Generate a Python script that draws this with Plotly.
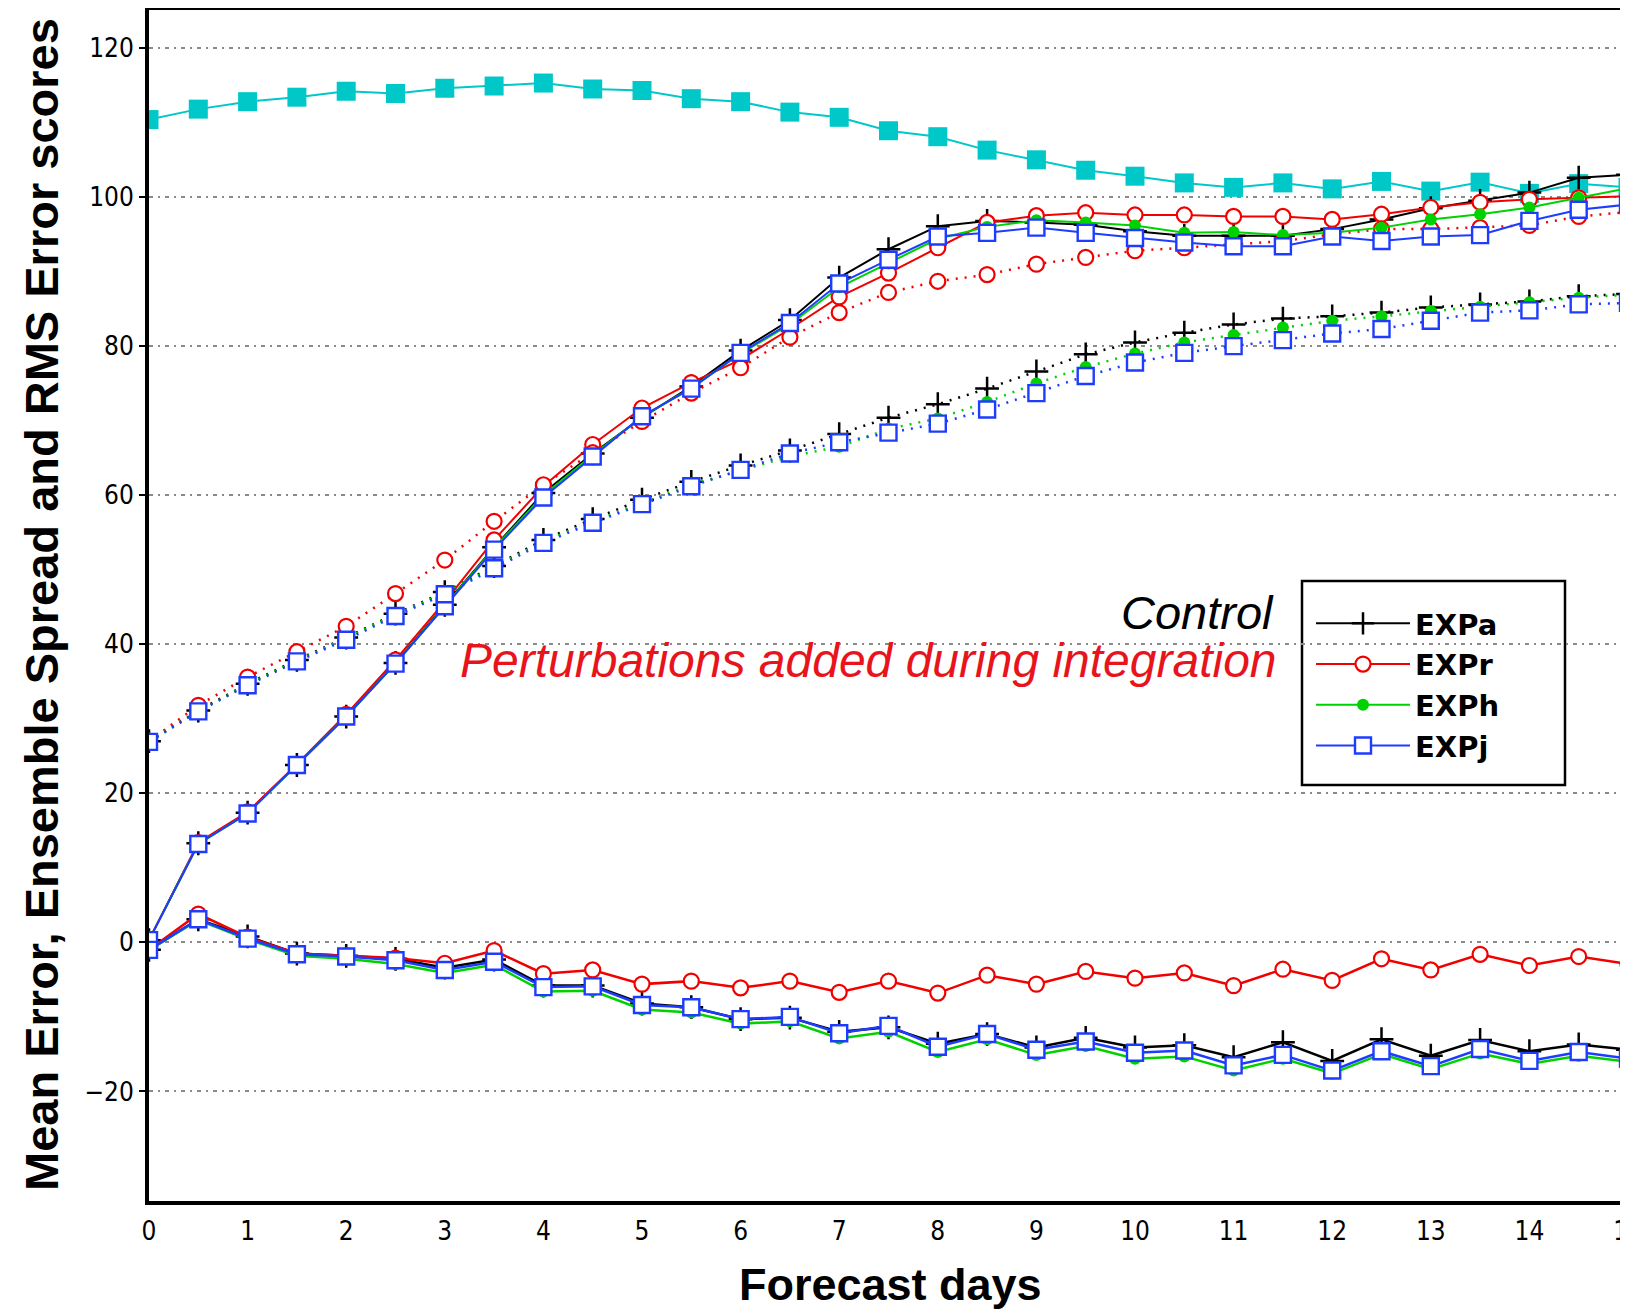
import plotly.graph_objects as go

# ---------------- data ----------------
days = [0, 0.5, 1, 1.5, 2, 2.5, 3, 3.5, 4, 4.5, 5, 5.5, 6, 6.5, 7, 7.5,
        8, 8.5, 9, 9.5, 10, 10.5, 11, 11.5, 12, 12.5, 13, 13.5, 14, 14.5, 15]

# cyan reference curve (filled squares, not in legend)
cyan_ref = [110.4, 111.8, 112.8, 113.4, 114.2, 113.9, 114.6, 114.9, 115.3, 114.5,
            114.3, 113.2, 112.8, 111.4, 110.7, 108.9, 108.1, 106.3, 105.0, 103.6,
            102.8, 101.9, 101.3, 101.9, 101.1, 102.1, 100.8, 102.0, 100.5, 101.8, 101.3]

# RMS error (solid)
rms_a = [0.3, 13.3, 17.4, 23.8, 30.3, 37.5, 45.3, 53.0, 60.3, 65.6, 70.4, 74.6, 79.4,
         83.5, 89.2, 93.0, 96.1, 96.8, 96.6, 96.3, 95.4, 94.8, 94.8, 94.8, 95.7, 97.0,
         98.5, 99.5, 100.6, 102.6, 103.0]
rms_r = [0.3, 13.4, 17.5, 23.9, 30.6, 37.9, 45.7, 54.0, 61.2, 66.8, 71.7, 75.1, 78.2,
         82.3, 86.6, 89.8, 93.2, 96.6, 97.5, 97.9, 97.6, 97.6, 97.4, 97.4, 97.0, 97.7,
         98.6, 99.3, 99.7, 99.9, 100.1]
rms_h = [0.3, 13.2, 17.3, 23.8, 30.3, 37.4, 45.2, 52.9, 60.0, 65.4, 70.5, 74.4, 79.0,
         82.9, 87.9, 91.1, 94.4, 96.0, 96.9, 96.6, 96.2, 95.2, 95.3, 94.9, 95.2, 95.9,
         97.0, 97.7, 98.6, 99.9, 101.2]
rms_j = [0.3, 13.2, 17.3, 23.8, 30.3, 37.4, 45.1, 52.7, 59.7, 65.2, 70.6, 74.3, 79.1,
         83.1, 88.4, 91.6, 94.7, 95.2, 95.9, 95.2, 94.5, 93.9, 93.4, 93.4, 94.7, 94.1,
         94.7, 94.9, 96.8, 98.3, 99.0]

# ensemble spread (dotted)
spread_a = [27.0, 31.1, 34.7, 37.9, 40.9, 44.1, 47.0, 50.5, 54.0, 56.8, 59.4, 61.8, 64.0,
            66.0, 68.2, 70.4, 72.2, 74.3, 76.6, 78.9, 80.5, 81.8, 82.9, 83.7, 84.0, 84.5,
            85.2, 85.6, 86.0, 86.7, 87.0]
spread_r = [27.0, 31.8, 35.6, 39.0, 42.4, 46.8, 51.3, 56.5, 61.4, 65.7, 69.9, 73.7, 77.1,
            81.2, 84.5, 87.2, 88.7, 89.6, 91.0, 91.9, 92.8, 93.2, 93.6, 94.1, 95.0, 95.7,
            95.7, 95.9, 96.2, 97.4, 98.0]
spread_h = [26.9, 31.0, 34.6, 37.8, 40.8, 44.0, 46.9, 50.4, 53.8, 56.5, 59.0, 61.4, 63.3,
            65.2, 66.5, 68.9, 70.3, 72.5, 75.0, 77.2, 79.0, 80.5, 81.5, 82.5, 83.4, 84.0,
            84.7, 85.3, 85.9, 86.5, 86.9]
spread_j = [26.9, 31.0, 34.5, 37.7, 40.6, 43.8, 46.7, 50.2, 53.6, 56.3, 58.8, 61.2, 63.4,
            65.6, 67.1, 68.4, 69.6, 71.5, 73.7, 76.0, 77.8, 79.1, 80.0, 80.8, 81.7, 82.3,
            83.4, 84.5, 84.8, 85.6, 85.8]

# mean error (solid)
me_a = [-1.0, 3.1, 0.8, -1.5, -1.8, -2.2, -3.4, -2.3, -5.8, -5.8, -8.2, -8.7, -10.3,
        -10.1, -12.0, -11.4, -13.6, -12.3, -14.1, -12.8, -14.1, -13.8, -15.4, -13.4,
        -15.9, -13.0, -15.2, -13.1, -14.6, -13.7, -14.4]
me_r = [-1.0, 3.8, 0.7, -1.5, -1.8, -2.1, -2.8, -1.1, -4.2, -3.7, -5.6, -5.2, -6.1,
        -5.2, -6.7, -5.2, -6.8, -4.4, -5.6, -3.9, -4.8, -4.1, -5.8, -3.6, -5.1, -2.2,
        -3.7, -1.6, -3.1, -1.9, -2.9]
me_h = [-1.0, 3.0, 0.4, -1.8, -2.2, -2.9, -4.1, -3.0, -6.6, -6.5, -9.0, -9.4, -10.9,
        -10.6, -12.9, -12.0, -14.7, -13.0, -15.1, -13.9, -15.6, -15.3, -17.2, -15.6,
        -17.6, -15.0, -17.0, -14.9, -16.3, -15.2, -16.0]
me_j = [-1.0, 3.1, 0.5, -1.6, -1.9, -2.4, -3.7, -2.6, -6.0, -5.9, -8.4, -8.7, -10.3,
        -10.0, -12.2, -11.2, -14.0, -12.3, -14.4, -13.3, -14.8, -14.5, -16.5, -15.1,
        -17.2, -14.6, -16.6, -14.3, -15.9, -14.7, -15.6]

exp_names = ["EXPa", "EXPr", "EXPh", "EXPj"]
x_tick_vals = [0, 1, 2, 3, 4, 5, 6, 7, 8, 9, 10, 11, 12, 13, 14, 15]
y_tick_vals = [-20, 0, 20, 40, 60, 80, 100, 120]
y_tick_text = ["\u221220", "0", "20", "40", "60", "80", "100", "120"]

# ---------------- styles ----------------
CYAN = "#00C8C8"
styles = {
    "EXPa": dict(color="#000000", symbol="cross-thin-open", size=17, lw=2.5, fill="#000000"),
    "EXPr": dict(color="#F20000", symbol="circle", size=15, lw=2.2, fill="white"),
    "EXPh": dict(color="#00D200", symbol="circle", size=12, lw=0, fill="#00D200"),
    "EXPj": dict(color="#1E3CFF", symbol="square", size=16, lw=2.4, fill="white"),
}
series = {
    "EXPa": (rms_a, spread_a, me_a),
    "EXPr": (rms_r, spread_r, me_r),
    "EXPh": (rms_h, spread_h, me_h),
    "EXPj": (rms_j, spread_j, me_j),
}

fig = go.Figure()

fig.add_trace(go.Scatter(
    x=days, y=cyan_ref, mode="lines+markers", showlegend=False,
    line=dict(color=CYAN, width=2),
    marker=dict(symbol="square", size=19, color=CYAN),
))

for name in exp_names:
    st = styles[name]
    rms, spr, me = series[name]
    mk = dict(symbol=st["symbol"], size=st["size"], color=st["fill"],
              line=dict(color=st["color"], width=st["lw"]))
    fig.add_trace(go.Scatter(
        x=days, y=rms, mode="lines+markers", name=name, showlegend=True,
        line=dict(color=st["color"], width=2), marker=mk))
    fig.add_trace(go.Scatter(
        x=days, y=spr, mode="lines+markers", name=name + " spread", showlegend=False,
        line=dict(color=st["color"], width=2.5, dash="2px,7px"), marker=mk))
    fig.add_trace(go.Scatter(
        x=days, y=me, mode="lines+markers", name=name + " mean error", showlegend=False,
        line=dict(color=st["color"], width=2.5), marker=mk))

# page geometry: the page body adds an 8 px offset, positions below are screen px
OFF = 8
W, H = 1628, 1313
L = 149 - OFF            # screen x of day 0 = 149
T = 10 - OFF             # screen y of plot top = 10
B = H - (1201 - OFF)     # screen y of plot bottom = 1201
PW, PH = W - L, H - T - B
PX_PER_DAY = 98.6


def px_x(s):
    return (s - OFF - L) / PW


def px_y(s):
    return (H - B - (s - OFF)) / PH


tick_font = dict(family="Liberation Sans Narrow, DejaVu Sans Condensed, Liberation Sans",
                 size=26, color="black")

fig.update_layout(
    width=W, height=H,
    margin=dict(l=L, r=0, t=T, b=B, autoexpand=False),
    paper_bgcolor="white", plot_bgcolor="white",
    xaxis=dict(range=[0, PW / PX_PER_DAY], tickvals=x_tick_vals, ticks="",
               showgrid=False, zeroline=False,
               showline=True, linecolor="black", linewidth=4, mirror=True,
               tickfont=tick_font, ticklabelstandoff=4, ticklabeloverflow="allow"),
    yaxis=dict(range=[-34.7, 125.1], tickvals=y_tick_vals, ticktext=y_tick_text,
               ticks="outside", ticklen=6, tickwidth=2, tickcolor="black",
               showgrid=True, gridcolor="#8a8a8a", gridwidth=2,
               griddash="4px,5px,2px,5px", zeroline=False,
               showline=True, linecolor="black", linewidth=4, mirror=False,
               tickfont=tick_font),
    legend=dict(x=px_x(1311), y=px_y(598), xanchor="left", yanchor="top",
                bgcolor="rgba(0,0,0,0)", borderwidth=0,
                font=dict(family="DejaVu Sans", size=29, color="black", weight="bold"),
                itemwidth=94, tracegroupgap=0),
    shapes=[dict(type="rect", xref="paper", yref="paper",
                 x0=px_x(1302), x1=px_x(1565), y0=px_y(785), y1=px_y(581),
                 line=dict(color="black", width=2.5), fillcolor="white", layer="between")],
    annotations=[
        dict(text="Mean Error, Ensemble Spread and RMS Error scores", textangle=-90,
             xref="paper", yref="paper", x=px_x(41), y=px_y(605),
             xanchor="center", yanchor="middle", showarrow=False,
             font=dict(family="Liberation Sans", size=47, color="black", weight="bold")),
        dict(text="Forecast days", xref="paper", yref="paper", x=px_x(890), y=px_y(1284),
             xanchor="center", yanchor="middle", showarrow=False,
             font=dict(family="Liberation Sans", size=45, color="black", weight="bold")),
        dict(text="<i>Control</i>", xref="x", yref="y", x=11.42, y=44.3,
             xanchor="right", yanchor="middle", showarrow=False,
             height=38, borderpad=0,
             font=dict(family="Liberation Sans", size=47, color="black")),
        dict(text="<i>Perturbations added during integration</i>", xref="x", yref="y",
             x=11.45, y=37.9, xanchor="right", yanchor="middle", showarrow=False,
             height=56, borderpad=0,
             font=dict(family="Liberation Sans", size=48, color="#E8141C")),
    ],
)

fig.write_html("out.html")
